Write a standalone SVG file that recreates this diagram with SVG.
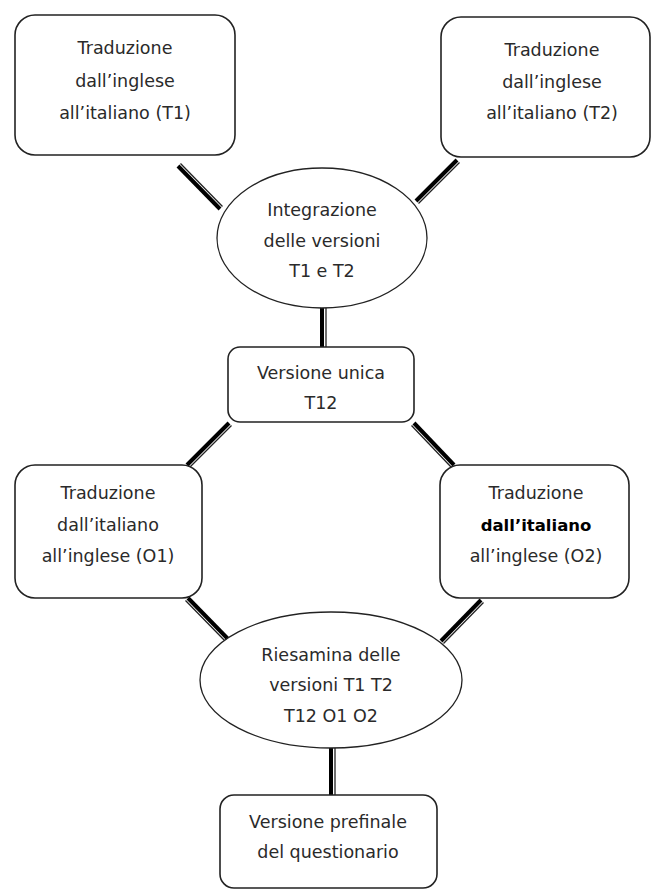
<svg xmlns="http://www.w3.org/2000/svg" width="652" height="891" viewBox="0 0 652 891">
<style>
.box{fill:#fff;stroke:#222;stroke-width:1.6}
.ell{fill:#fff;stroke:#222;stroke-width:1.3}
.t{font-family:"DejaVu Sans","Liberation Sans",sans-serif;font-size:17.5px;fill:#2a2a2a;text-anchor:middle}
.b{fill:#000;font-weight:bold;font-size:16.5px}
.thick{stroke:#000;stroke-width:4;fill:none}
.thin{stroke:#222;stroke-width:1.3;fill:none}
</style>
<rect width="652" height="891" fill="#fff"/>
<g id="connectors">
<line class="thick" x1="178" y1="166" x2="220" y2="209"/><line class="thin" x1="180.5" y1="163.5" x2="222.5" y2="206.5"/>
<line class="thick" x1="457" y1="160" x2="416" y2="201"/><line class="thin" x1="459.5" y1="162.5" x2="418.5" y2="203.5"/>
<line class="thick" x1="322" y1="307" x2="322" y2="347"/><line class="thin" x1="326" y1="307" x2="326" y2="347"/>
<line class="thick" x1="229" y1="423" x2="187" y2="465"/><line class="thin" x1="231.5" y1="425.5" x2="189.5" y2="467.5"/>
<line class="thick" x1="414" y1="423" x2="454" y2="465"/><line class="thin" x1="411.5" y1="425.5" x2="451.5" y2="467.5"/>
<line class="thick" x1="188" y1="598" x2="229" y2="640"/><line class="thin" x1="185.5" y1="600.5" x2="226.5" y2="642.5"/>
<line class="thick" x1="481" y1="600" x2="441" y2="641"/><line class="thin" x1="483.5" y1="602.5" x2="443.5" y2="643.5"/>
<line class="thick" x1="331" y1="748" x2="331" y2="795"/><line class="thin" x1="335" y1="748" x2="335" y2="795"/>
</g>
<g id="t1">
<rect class="box" x="15" y="15" width="220" height="140" rx="20"/>
<text class="t" x="125" y="54">Traduzione</text>
<text class="t" x="125" y="87">dall’inglese</text>
<text class="t" x="125" y="119">all’italiano (T1)</text>
</g>
<g id="t2">
<rect class="box" x="441" y="17" width="209" height="140" rx="20"/>
<text class="t" x="552" y="56">Traduzione</text>
<text class="t" x="552" y="88">dall’inglese</text>
<text class="t" x="552" y="119">all’italiano (T2)</text>
</g>
<g id="integrazione">
<ellipse class="ell" cx="322" cy="238" rx="105" ry="70"/>
<text class="t" x="322" y="216">Integrazione</text>
<text class="t" x="322" y="247">delle versioni</text>
<text class="t" x="322" y="277">T1  e T2</text>
</g>
<g id="t12">
<rect class="box" x="228" y="347" width="186" height="75" rx="12"/>
<text class="t" x="321" y="379">Versione unica</text>
<text class="t" x="321" y="409">T12</text>
</g>
<g id="o1">
<rect class="box" x="15" y="465" width="187" height="133" rx="20"/>
<text class="t" x="108" y="499">Traduzione</text>
<text class="t" x="108" y="531">dall’italiano</text>
<text class="t" x="108" y="562">all’inglese (O1)</text>
</g>
<g id="o2">
<rect class="box" x="440" y="465" width="189" height="133" rx="20"/>
<text class="t" x="536" y="499">Traduzione</text>
<text class="t b" x="536" y="531">dall’italiano</text>
<text class="t" x="536" y="562">all’inglese (O2)</text>
</g>
<g id="riesamina">
<ellipse class="ell" cx="331" cy="680" rx="131" ry="68"/>
<text class="t" x="331" y="661">Riesamina delle</text>
<text class="t" x="331" y="691">versioni T1  T2</text>
<text class="t" x="331" y="722">T12  O1  O2</text>
</g>
<g id="finale">
<rect class="box" x="220" y="795" width="217" height="93" rx="14"/>
<text class="t" x="328" y="828">Versione prefinale</text>
<text class="t" x="328" y="858">del questionario</text>
</g>
</svg>
